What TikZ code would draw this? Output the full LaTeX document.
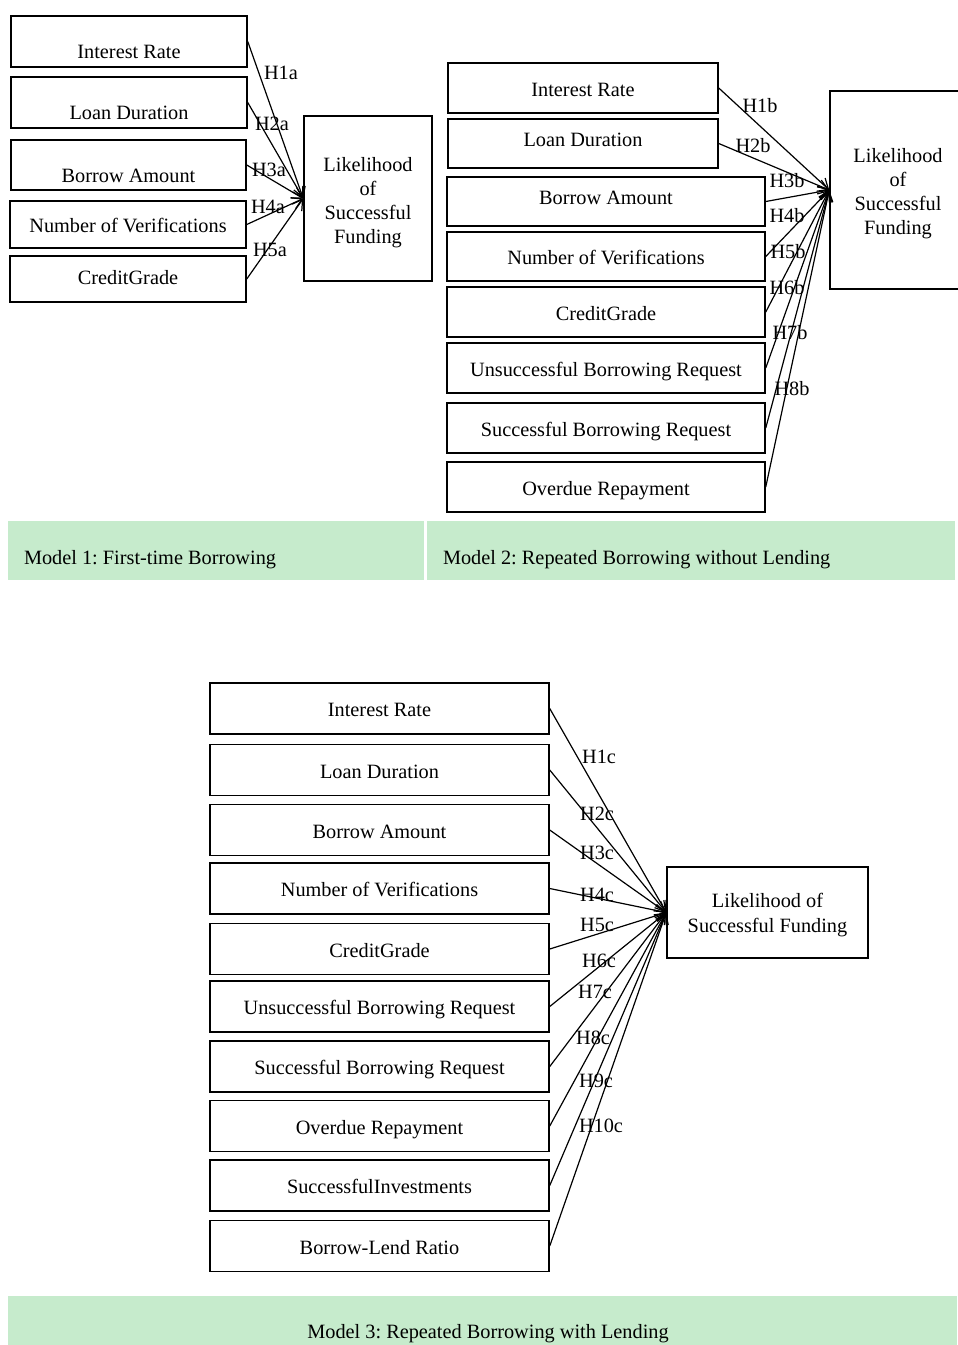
\documentclass[tikz,border=0pt]{standalone}
\usepackage{fontspec}
\setmainfont{Liberation Serif}
\usetikzlibrary{arrows.meta}
\frenchspacing

\tikzset{
  varbox/.style={draw=drawColor,line width=1.5pt,inner sep=0pt,text height=20pt,text depth=4pt},
  lowbox/.style={varbox,text height=34pt,text depth=0pt},
  highbox/.style={varbox,text height=9pt,text depth=4pt},
  outbox/.style={draw=drawColor,line width=1.5pt,inner sep=0pt,align=center},
  hyp/.style={draw=drawColor,line width=1.2pt,-{Straight Barb[length=10pt,width=12pt]}},
  hlabel/.style={text=drawColor,inner sep=0pt,outer sep=0pt},
  bandtext/.style={text=drawColor,inner sep=0pt,outer sep=0pt}
}

\begin{document}
\begin{tikzpicture}[x=1pt,y=-1pt,font=\fontsize{20.3}{24}\selectfont]
\definecolor{fillColor}{RGB}{255,255,255}
\definecolor{drawColor}{RGB}{0,0,0}
\definecolor{bandColor}{RGB}{198,235,204}
\path[use as bounding box,fill=fillColor] (0,0) rectangle (958,1345);
\begin{scope}
\path[clip] (0,0) rectangle (958,1345);

\path[fill=bandColor] (  8, 521) rectangle (424, 580);

\path[fill=bandColor] (427, 521) rectangle (955, 580);

\path[fill=bandColor] (  8,1296) rectangle (957,1345);

\node[bandtext,anchor=base west] (band1) at ( 24, 564) {Model 1: First-time Borrowing};

\node[bandtext,anchor=base west] (band2) at (443, 564) {Model 2: Repeated Borrowing without Lending};

\node[bandtext,anchor=base] (band3) at (488,1338) {Model 3: Repeated Borrowing with Lending};

% model 1
\node[lowbox,minimum width=236pt,minimum height=51pt] (m1ir) at (129.0, 41.5) {Interest Rate};

\node[lowbox,minimum width=236pt,minimum height=51pt] (m1ld) at (129.0,102.5) {Loan Duration};

\node[lowbox,minimum width=235pt,minimum height=50pt] (m1ba) at (128.5,165.0) {Borrow Amount};

\node[varbox,minimum width=236pt,minimum height=47pt] (m1nv) at (128.0,224.5) {Number of Verifications};

\node[varbox,text height=14pt,minimum width=236pt,minimum height=46pt] (m1cg) at (128.0,279.0) {CreditGrade};

\node[outbox,minimum width=128pt,minimum height=165pt] (m1out) at (368.0,198.5) {\rule{0pt}{22pt}Likelihood\\of\\Successful\\Funding};

\draw[hyp] (m1ir.east) -- (m1out.west);

\draw[hyp] (m1ld.east) -- (m1out.west);

\draw[hyp] (m1ba.east) -- (m1out.west);

\draw[hyp] (m1nv.east) -- (m1out.west);

\draw[hyp] (m1cg.east) -- (m1out.west);

\node[hlabel] (h1a) at (281, 73) {H1a};

\node[hlabel] (h2a) at (272,124) {H2a};

\node[hlabel] (h3a) at (269,170) {H3a};

\node[hlabel] (h4a) at (268,207) {H4a};

\node[hlabel] (h5a) at (270,250) {H5a};

% model 2
\node[varbox,minimum width=270pt,minimum height=50pt] (m2ir) at (583.0, 88.0) {Interest Rate};

\node[highbox,minimum width=270pt,minimum height=49pt] (m2ld) at (583.0,143.5) {Loan Duration};

\node[highbox,minimum width=318pt,minimum height=49pt] (m2ba) at (606.0,201.5) {Borrow Amount};

\node[varbox,minimum width=318pt,minimum height=49pt] (m2nv) at (606.0,256.5) {Number of Verifications};

\node[varbox,minimum width=318pt,minimum height=50pt] (m2cg) at (606.0,312.0) {CreditGrade};

\node[varbox,minimum width=318pt,minimum height=50pt] (m2ur) at (606.0,368.0) {Unsuccessful Borrowing Request};

\node[varbox,minimum width=318pt,minimum height=50pt] (m2sr) at (606.0,428.0) {Successful Borrowing Request};

\node[varbox,minimum width=318pt,minimum height=50pt] (m2or) at (606.0,487.0) {Overdue Repayment};

\node[outbox,minimum width=136pt,minimum height=198pt] (m2out) at (898.0,190.0) {\rule{0pt}{22pt}Likelihood\\of\\Successful\\Funding};

\draw[hyp] (m2ir.east) -- (m2out.west);

\draw[hyp] (m2ld.east) -- (m2out.west);

\draw[hyp] (m2ba.east) -- (m2out.west);

\draw[hyp] (m2nv.east) -- (m2out.west);

\draw[hyp] (m2cg.east) -- (m2out.west);

\draw[hyp] (m2ur.east) -- (m2out.west);

\draw[hyp] (m2sr.east) -- (m2out.west);

\draw[hyp] (m2or.east) -- (m2out.west);

\node[hlabel] (h1b) at (760,106) {H1b};

\node[hlabel] (h2b) at (753,146) {H2b};

\node[hlabel] (h3b) at (787,181) {H3b};

\node[hlabel] (h4b) at (787,216) {H4b};

\node[hlabel] (h5b) at (788,252) {H5b};

\node[hlabel] (h6b) at (787,288) {H6b};

\node[hlabel] (h7b) at (790,333) {H7b};

\node[hlabel] (h8b) at (792,389) {H8b};

% model 3
\node[varbox,minimum width=339pt,minimum height=51pt] (m3ir) at (379.5, 708.5) {Interest Rate};

\node[varbox,minimum width=339pt,minimum height=51pt] (m3ld) at (379.5, 770.0) {Loan Duration};

\node[varbox,minimum width=339pt,minimum height=51pt] (m3ba) at (379.5, 830.0) {Borrow Amount};

\node[varbox,minimum width=339pt,minimum height=51pt] (m3nv) at (379.5, 888.5) {Number of Verifications};

\node[varbox,minimum width=339pt,minimum height=51pt] (m3cg) at (379.5, 949.0) {CreditGrade};

\node[varbox,minimum width=339pt,minimum height=51pt] (m3ur) at (379.5,1006.5) {Unsuccessful Borrowing Request};

\node[varbox,minimum width=339pt,minimum height=51pt] (m3sr) at (379.5,1066.5) {Successful Borrowing Request};

\node[varbox,minimum width=339pt,minimum height=51pt] (m3or) at (379.5,1126.0) {Overdue Repayment};

\node[varbox,minimum width=339pt,minimum height=51pt] (m3si) at (379.5,1185.5) {SuccessfulInvestments};

\node[varbox,minimum width=339pt,minimum height=51pt] (m3bl) at (379.5,1246.0) {Borrow-Lend Ratio};

\node[outbox,minimum width=201pt,minimum height=91pt,font=\fontsize{20.3}{25}\selectfont] (m3out) at (767.5, 912.5) {\rule{0pt}{20pt}Likelihood of\\Successful Funding};

\draw[hyp] (m3ir.east) -- (m3out.west);

\draw[hyp] (m3ld.east) -- (m3out.west);

\draw[hyp] (m3ba.east) -- (m3out.west);

\draw[hyp] (m3nv.east) -- (m3out.west);

\draw[hyp] (m3cg.east) -- (m3out.west);

\draw[hyp] (m3ur.east) -- (m3out.west);

\draw[hyp] (m3sr.east) -- (m3out.west);

\draw[hyp] (m3or.east) -- (m3out.west);

\draw[hyp] (m3si.east) -- (m3out.west);

\draw[hyp] (m3bl.east) -- (m3out.west);

\node[hlabel] (h1c) at (599, 757) {H1c};

\node[hlabel] (h2c) at (597, 814) {H2c};

\node[hlabel] (h3c) at (597, 853) {H3c};

\node[hlabel] (h4c) at (597, 895) {H4c};

\node[hlabel] (h5c) at (597, 925) {H5c};

\node[hlabel] (h6c) at (599, 961) {H6c};

\node[hlabel] (h7c) at (595, 992) {H7c};

\node[hlabel] (h8c) at (593,1038) {H8c};

\node[hlabel] (h9c) at (596,1081) {H9c};

\node[hlabel] (h10c) at (601,1126) {H10c};
\end{scope}
\end{tikzpicture}
\end{document}
